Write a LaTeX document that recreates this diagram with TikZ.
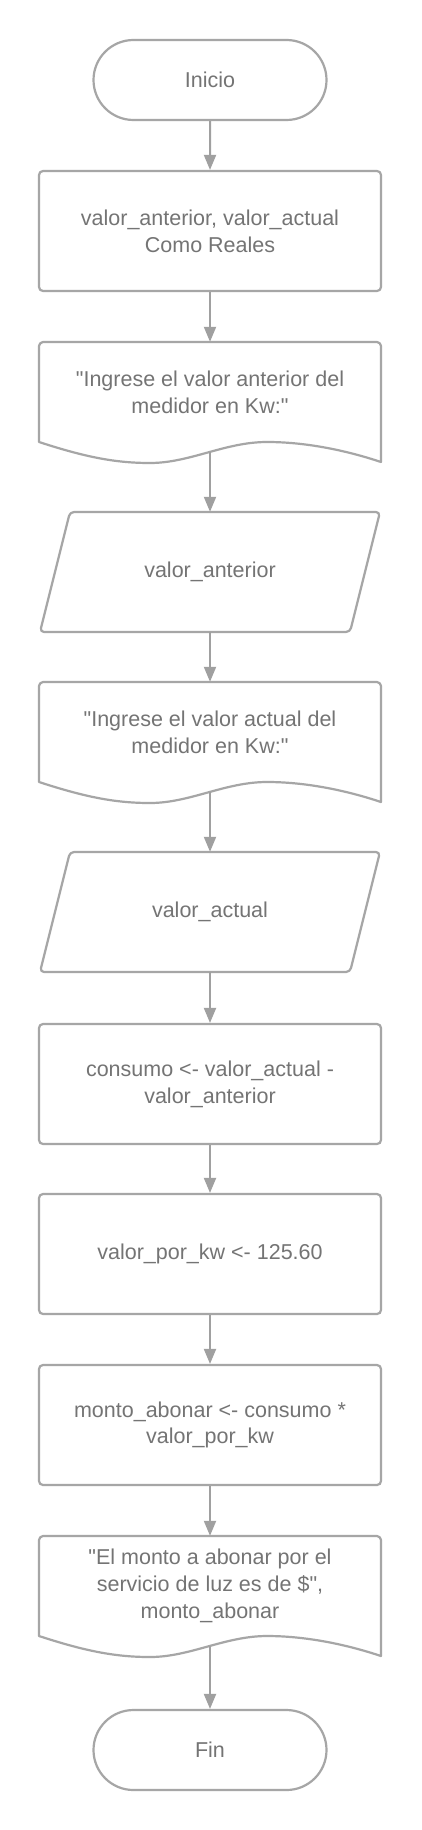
\documentclass[tikz,border=0pt]{standalone}
\usepackage{fontspec}
\setmainfont{Liberation Sans}[Ligatures=TeXOff]
\usetikzlibrary{arrows.meta,shapes.misc}
\definecolor{bord}{HTML}{A6A6A6}
\definecolor{txt}{HTML}{747474}
\definecolor{arr}{HTML}{A0A0A0}
\begin{document}
\begin{tikzpicture}[x=1pt,y=-1pt,
  lbl/.style={inner sep=0pt, text=txt, align=center, font=\fontsize{21.5}{26.7}\selectfont},
  area/.style={lbl, minimum width=342pt, minimum height=120pt},
  box/.style={area, draw=bord, line width=2.2pt, rounded corners=4pt},
  term/.style={lbl, rounded rectangle, draw=bord, line width=2.2pt, minimum width=233pt, minimum height=80pt},
  outline/.style={draw=bord, line width=2.2pt, line join=round},
  conn/.style={draw=arr, line width=2pt, -{Triangle[length=15pt,width=12pt]}}]
\fill[white] (0,0) rectangle (421,1830);
\useasboundingbox (0,0) rectangle (421,1830);

% terminals and boxes
\node[term] (t1) at (210,80) {Inicio};
\node[box] (b1) at (210,231) {valor\_anterior, valor\_actual\\Como Reales};

% document 1
\begin{scope}[shift={(0,342)}]
  \draw[outline] (39,100) -- (39,4) .. controls (39,2) and (41,0) .. (43,0) -- (377,0)
    .. controls (379,0) and (381,2) .. (381,4) -- (381,120)
    .. controls (345,108) and (305,100) .. (267,100)
    .. controls (225,100) and (190,121) .. (150,121)
    .. controls (115,121) and (85,115) .. (39,100) -- cycle;
  \node[area, minimum height=100pt] (d1) at (210,50) {"Ingrese el valor anterior del\\medidor en Kw:"};
  \coordinate (d1w) at (210,110);
\end{scope}

% parallelogram 1
\begin{scope}[shift={(0,512)}]
  \draw[outline, rounded corners=4pt] (70,0) -- (380,0) -- (350,120) -- (40,120) -- cycle;
  \node[area] (p1) at (210,60) {valor\_anterior};
\end{scope}

% document 2
\begin{scope}[shift={(0,682)}]
  \draw[outline] (39,100) -- (39,4) .. controls (39,2) and (41,0) .. (43,0) -- (377,0)
    .. controls (379,0) and (381,2) .. (381,4) -- (381,120)
    .. controls (345,108) and (305,100) .. (267,100)
    .. controls (225,100) and (190,121) .. (150,121)
    .. controls (115,121) and (85,115) .. (39,100) -- cycle;
  \node[area, minimum height=100pt] (d2) at (210,50) {"Ingrese el valor actual del\\medidor en Kw:"};
  \coordinate (d2w) at (210,110);
\end{scope}

% parallelogram 2
\begin{scope}[shift={(0,852)}]
  \draw[outline, rounded corners=4pt] (70,0) -- (380,0) -- (350,120) -- (40,120) -- cycle;
  \node[area] (p2) at (210,60) {valor\_actual};
\end{scope}

\node[box] (b3) at (210,1084) {consumo <- valor\_actual -\\valor\_anterior};
\node[box] (b4) at (210,1254) {valor\_por\_kw <- 125.60};
\node[box] (b5) at (210,1425) {monto\_abonar <- consumo *\\valor\_por\_kw};

% document 3
\begin{scope}[shift={(0,1536)}]
  \draw[outline] (39,100) -- (39,4) .. controls (39,2) and (41,0) .. (43,0) -- (377,0)
    .. controls (379,0) and (381,2) .. (381,4) -- (381,120)
    .. controls (345,108) and (305,100) .. (267,100)
    .. controls (225,100) and (190,121) .. (150,121)
    .. controls (115,121) and (85,115) .. (39,100) -- cycle;
  \node[area, minimum height=100pt] (d3) at (210,50) {"El monto a abonar por el\\servicio de luz es de \$",\\monto\_abonar};
  \coordinate (d3w) at (210,110);
\end{scope}

\node[term] (t2) at (210,1750) {Fin};

% connectors
\draw[conn] (t1) -- (b1);
\draw[conn] (b1) -- (d1);
\draw[conn] (d1w) -- (p1.north);
\draw[conn] (p1.south) -- (d2.north);
\draw[conn] (d2w) -- (p2.north);
\draw[conn] (p2.south) -- (b3);
\draw[conn] (b3) -- (b4);
\draw[conn] (b4) -- (b5);
\draw[conn] (b5) -- (d3);
\draw[conn] (d3w) -- (t2);
\end{tikzpicture}
\end{document}
